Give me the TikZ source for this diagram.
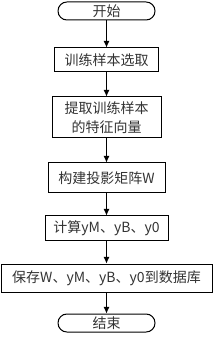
\documentclass[tikz,border=0pt]{standalone}
\usepackage{fontspec}
\newfontfamily\cjk{Noto Sans CJK SC}
\usetikzlibrary{arrows.meta}
\tikzset{
  stepbox/.style={draw, rectangle, line width=0.75pt, inner sep=0pt,
    font=\cjk\fontsize{10.5}{14.25}\selectfont, text=black!80, align=center},
  endbox/.style={stepbox, rounded corners=6.7pt},
  flow/.style={-{Latex[length=5pt,width=4.5pt]}, line width=0.6pt}
}
\begin{document}
\begin{tikzpicture}[x=0.75pt,y=-0.75pt]
\useasboundingbox (0,0) rectangle (213,341);
\node[endbox, minimum width=72.75pt, minimum height=13.5pt] (start) at (106.5,11) {开始};
\node[stepbox, minimum width=78pt, minimum height=18pt] (select) at (106.5,60) {训练样本选取};
\node[stepbox, minimum width=81.75pt, minimum height=30.75pt] (feature) at (106.5,117.5) {提取训练样本\\的特征向量};
\node[stepbox, minimum width=87.75pt, minimum height=22.5pt] (proj) at (106.5,178) {构建投影矩阵W};
\node[stepbox, minimum width=92.25pt, minimum height=18pt] (calc) at (106.5,228) {计算yM、yB、y0};
\node[stepbox, minimum width=158.25pt, minimum height=21pt] (save) at (106.5,278) {保存W、yM、yB、y0到数据库};
\node[endbox, minimum width=72.75pt, minimum height=13.5pt] (stop) at (106.5,323) {结束};
\draw[flow] (start)--(select);
\draw[flow] (select)--(feature);
\draw[flow] (feature)--(proj);
\draw[flow] (proj)--(calc);
\draw[flow] (calc)--(save);
\draw[flow] (save)--(stop);
\end{tikzpicture}
\end{document}
